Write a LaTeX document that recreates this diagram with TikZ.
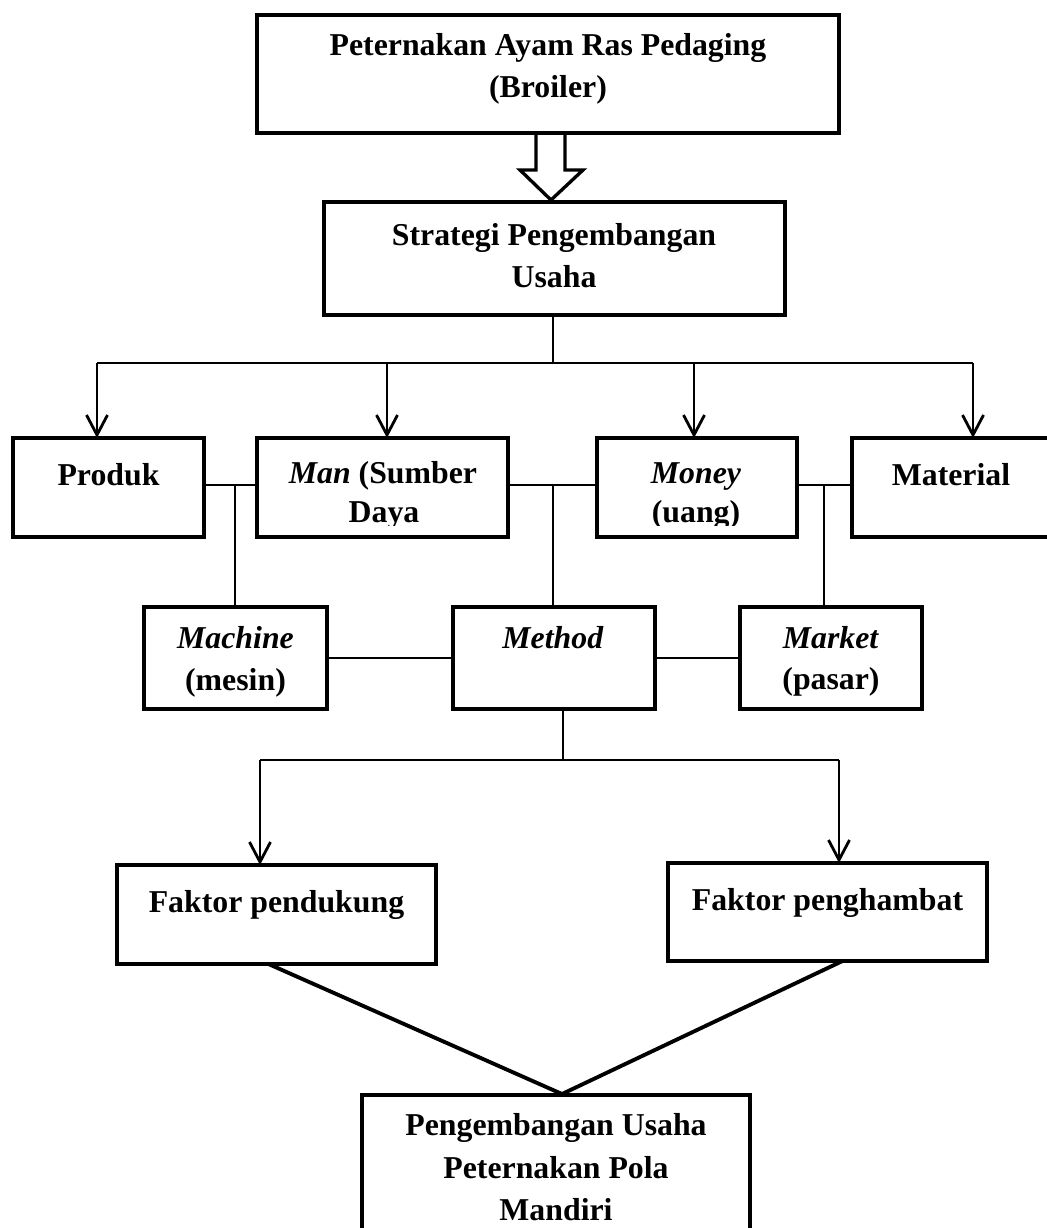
\documentclass[tikz,border=0pt]{standalone}
\usepackage{fontspec}
\setmainfont{Liberation Serif}
\usetikzlibrary{arrows.meta,fit,calc}
\begin{document}
\begin{tikzpicture}[x=0.02cm,y=-0.02cm,
  box/.style={draw, line width=2.5pt, inner sep=0pt, outer sep=0pt},
  txt/.style={inner sep=0pt, anchor=base, font=\bfseries\fontsize{18.1}{22}\selectfont},
  conn/.style={line width=1.6pt},
  arr/.style={line width=1.6pt, -{Straight Barb[length=0.4cm,width=0.42cm,line width=1.6pt]}},
  diag/.style={line width=2.2pt},
  hollow/.style={line width=1.9pt, line join=miter}]
\useasboundingbox (0,0) rectangle (1047,1228);

% ---------- boxes ----------
\node[box, fit={(257,15) (839,133)}] (top) {};
\node[box, fit={(324,202) (785,315)}] (strat) {};
\node[box, fit={(13,438) (204,537)}] (produk) {};
\node[box, fit={(257,438) (508,537)}] (man) {};
\node[box, fit={(597,438) (797,537)}] (money) {};
\node[box, fit={(852,438) (1053,537)}] (material) {};
\node[box, fit={(144,607) (327,709)}] (machine) {};
\node[box, fit={(453,607) (655,709)}] (method) {};
\node[box, fit={(740,607) (922,709)}] (market) {};
\node[box, fit={(117,865) (436,964)}] (pend) {};
\node[box, fit={(668,863) (987,961)}] (peng) {};
\node[box, fit={(362,1095) (750,1245)}] (hasil) {};

% ---------- texts ----------
\node[txt] (toptA) at (548,55) {Peternakan Ayam Ras Pedaging};
\node[txt] (toptB) at (548,97) {(Broiler)};
\node[txt] (stratA) at (554,245) {Strategi Pengembangan};
\node[txt] (stratB) at (554,287) {Usaha};
\node[txt] (produkA) at (108.5,485) {Produk};
\begin{scope}
  \clip (257,438) rectangle (508,525);
  \node[txt] (manA) at (383,483) {\textit{Man} (Sumber};
  \node[txt] (manB) at (384,522) {Daya};
\end{scope}
\begin{scope}
  \clip (597,438) rectangle (797,525);
  \node[txt] (moneyA) at (696,483) {\textit{Money}};
  \node[txt] (moneyB) at (696,522) {(uang)};
\end{scope}
\node[txt] (materialA) at (951,485) {Material};
\node[txt] (machineA) at (235.5,648) {\textit{Machine}};
\node[txt] (machineB) at (235.5,690) {(mesin)};
\node[txt] (methodA) at (553,648) {\textit{Method}};
\node[txt] (marketA) at (831,648) {\textit{Market}};
\node[txt] (marketB) at (831,689) {(pasar)};
\node[txt] (pendA) at (276.5,912) {Faktor pendukung};
\node[txt] (pengA) at (827.5,910) {Faktor penghambat};
\node[txt] (hasilA) at (556,1135) {Pengembangan Usaha};
\node[txt] (hasilB) at (556,1178) {Peternakan Pola};
\node[txt] (hasilC) at (556,1220) {Mandiri};

% ---------- hollow arrow ----------
\draw[hollow] (536,133) -- (536,170) -- (520,170) -- (551,200) -- (583,170) -- (565,170) -- (565,133);

% ---------- first distribution ----------
\coordinate (busL) at (97,363);
\coordinate (busR) at (973,363);
\coordinate (b2) at (387,363);
\coordinate (b3) at (694,363);
\coordinate (bs) at (553,363);
\draw[conn] (bs |- strat.south) -- (bs);
\draw[conn] (busL) -- (busR);
\draw[arr] (busL) -- (busL |- produk.north);
\draw[arr] (b2) -- (b2 |- man.north);
\draw[arr] (b3) -- (b3 |- money.north);
\draw[arr] (busR) -- (busR |- material.north);

% ---------- links between the M boxes ----------
\coordinate (j1) at (235,485);
\coordinate (j2) at (553,485);
\coordinate (j3) at (824,485);
\draw[conn] (j1 -| produk.east) -- (j1 -| man.west);
\draw[conn] (j1) -- (j1 |- machine.north);
\draw[conn] (j2 -| man.east) -- (j2 -| money.west);
\draw[conn] (j2) -- (j2 |- method.north);
\draw[conn] (j3 -| money.east) -- (j3 -| material.west);
\draw[conn] (j3) -- (j3 |- market.north);
\draw[conn] (machine.east) -- (method.west);
\draw[conn] (method.east) -- (market.west);

% ---------- second distribution ----------
\coordinate (j4) at (563,760);
\coordinate (f1) at (260,760);
\coordinate (f2) at (839,760);
\draw[conn] (j4 |- method.south) -- (j4);
\draw[conn] (f1) -- (f2);
\draw[arr] (f1) -- (f1 |- pend.north);
\draw[arr] (f2) -- (f2 |- peng.north);

% ---------- convergence ----------
\coordinate (conv) at (562,1094);
\draw[diag] ($(pend.south)+(-8,0)$) -- (conv);
\draw[diag] ($(peng.south)+(15,0)$) -- (conv);
\end{tikzpicture}
\end{document}
